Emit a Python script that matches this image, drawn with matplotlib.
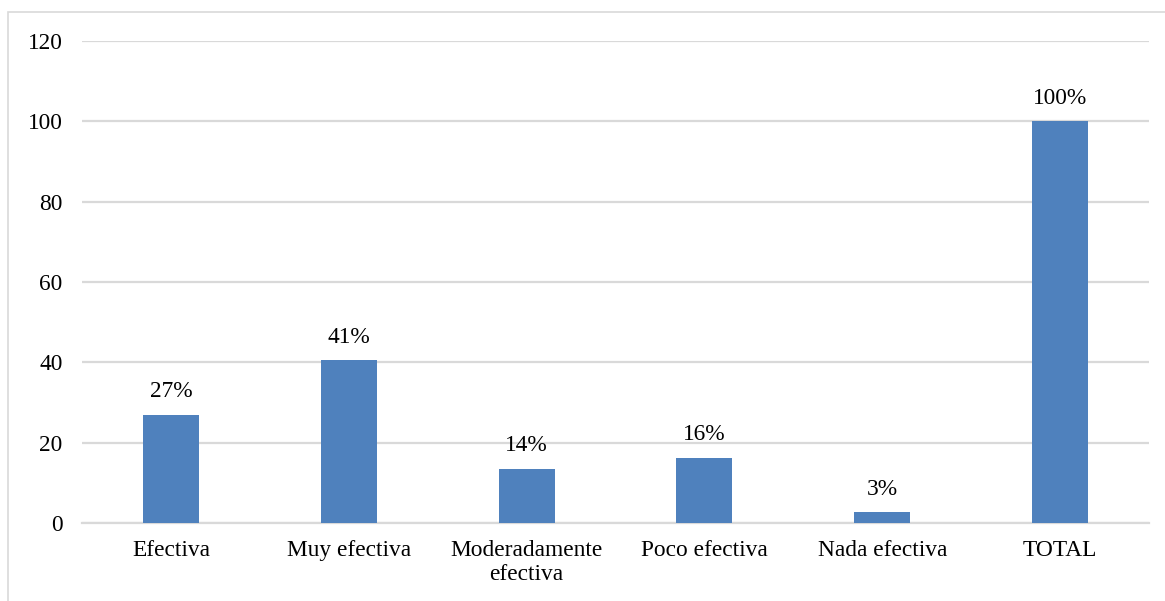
import matplotlib.pyplot as plt
from matplotlib.patches import Rectangle

categories = ["Efectiva", "Muy efectiva", "Moderadamente\nefectiva", "Poco efectiva", "Nada efectiva", "TOTAL"]
values = [27, 40.5, 13.5, 16.2, 2.7, 100]
labels = ["27%", "41%", "14%", "16%", "3%", "100%"]

plt.rcParams['font.family'] = ['Liberation Serif', 'DejaVu Serif']

fig = plt.figure(figsize=(11.65, 6.01), dpi=100)
ax = fig.add_axes([82 / 1165, 1 - 523 / 601, (1149 - 82) / 1165, (523 - 41) / 601])

x = range(len(categories))
bars = ax.bar(x, values, width=0.315, color="#4f81bd", zorder=3)

for b, lab in zip(bars, labels):
    ax.annotate(lab, (b.get_x() + b.get_width() / 2, b.get_height()),
                xytext=(0, 9), textcoords="offset points",
                ha="center", va="bottom", fontsize=16.8, color="#000000")

ax.set_xlim(-0.5, len(categories) - 0.5)
ax.set_ylim(0, 120)
ax.set_yticks(range(0, 121, 20))
ax.set_xticks(list(x))
ax.set_xticklabels(categories, fontsize=16.8, linespacing=1.2)
ax.tick_params(axis="y", length=0, pad=14, labelsize=16.8)
ax.tick_params(axis="x", length=0, pad=12)
ax.grid(axis="y", color="#d9d9d9", linewidth=1.6, zorder=0)
for s in ["top", "right", "left"]:
    ax.spines[s].set_visible(False)
ax.spines["bottom"].set_color("#d9d9d9")
ax.spines["bottom"].set_linewidth(1.6)

# light chart-area border
fig.patches.append(Rectangle((8 / 1165, -0.1), 1.2, 1.1 - 12 / 601, transform=fig.transFigure,
                             fill=False, edgecolor="#d9d9d9", linewidth=1.2))

fig.savefig("out.png", dpi=100)
